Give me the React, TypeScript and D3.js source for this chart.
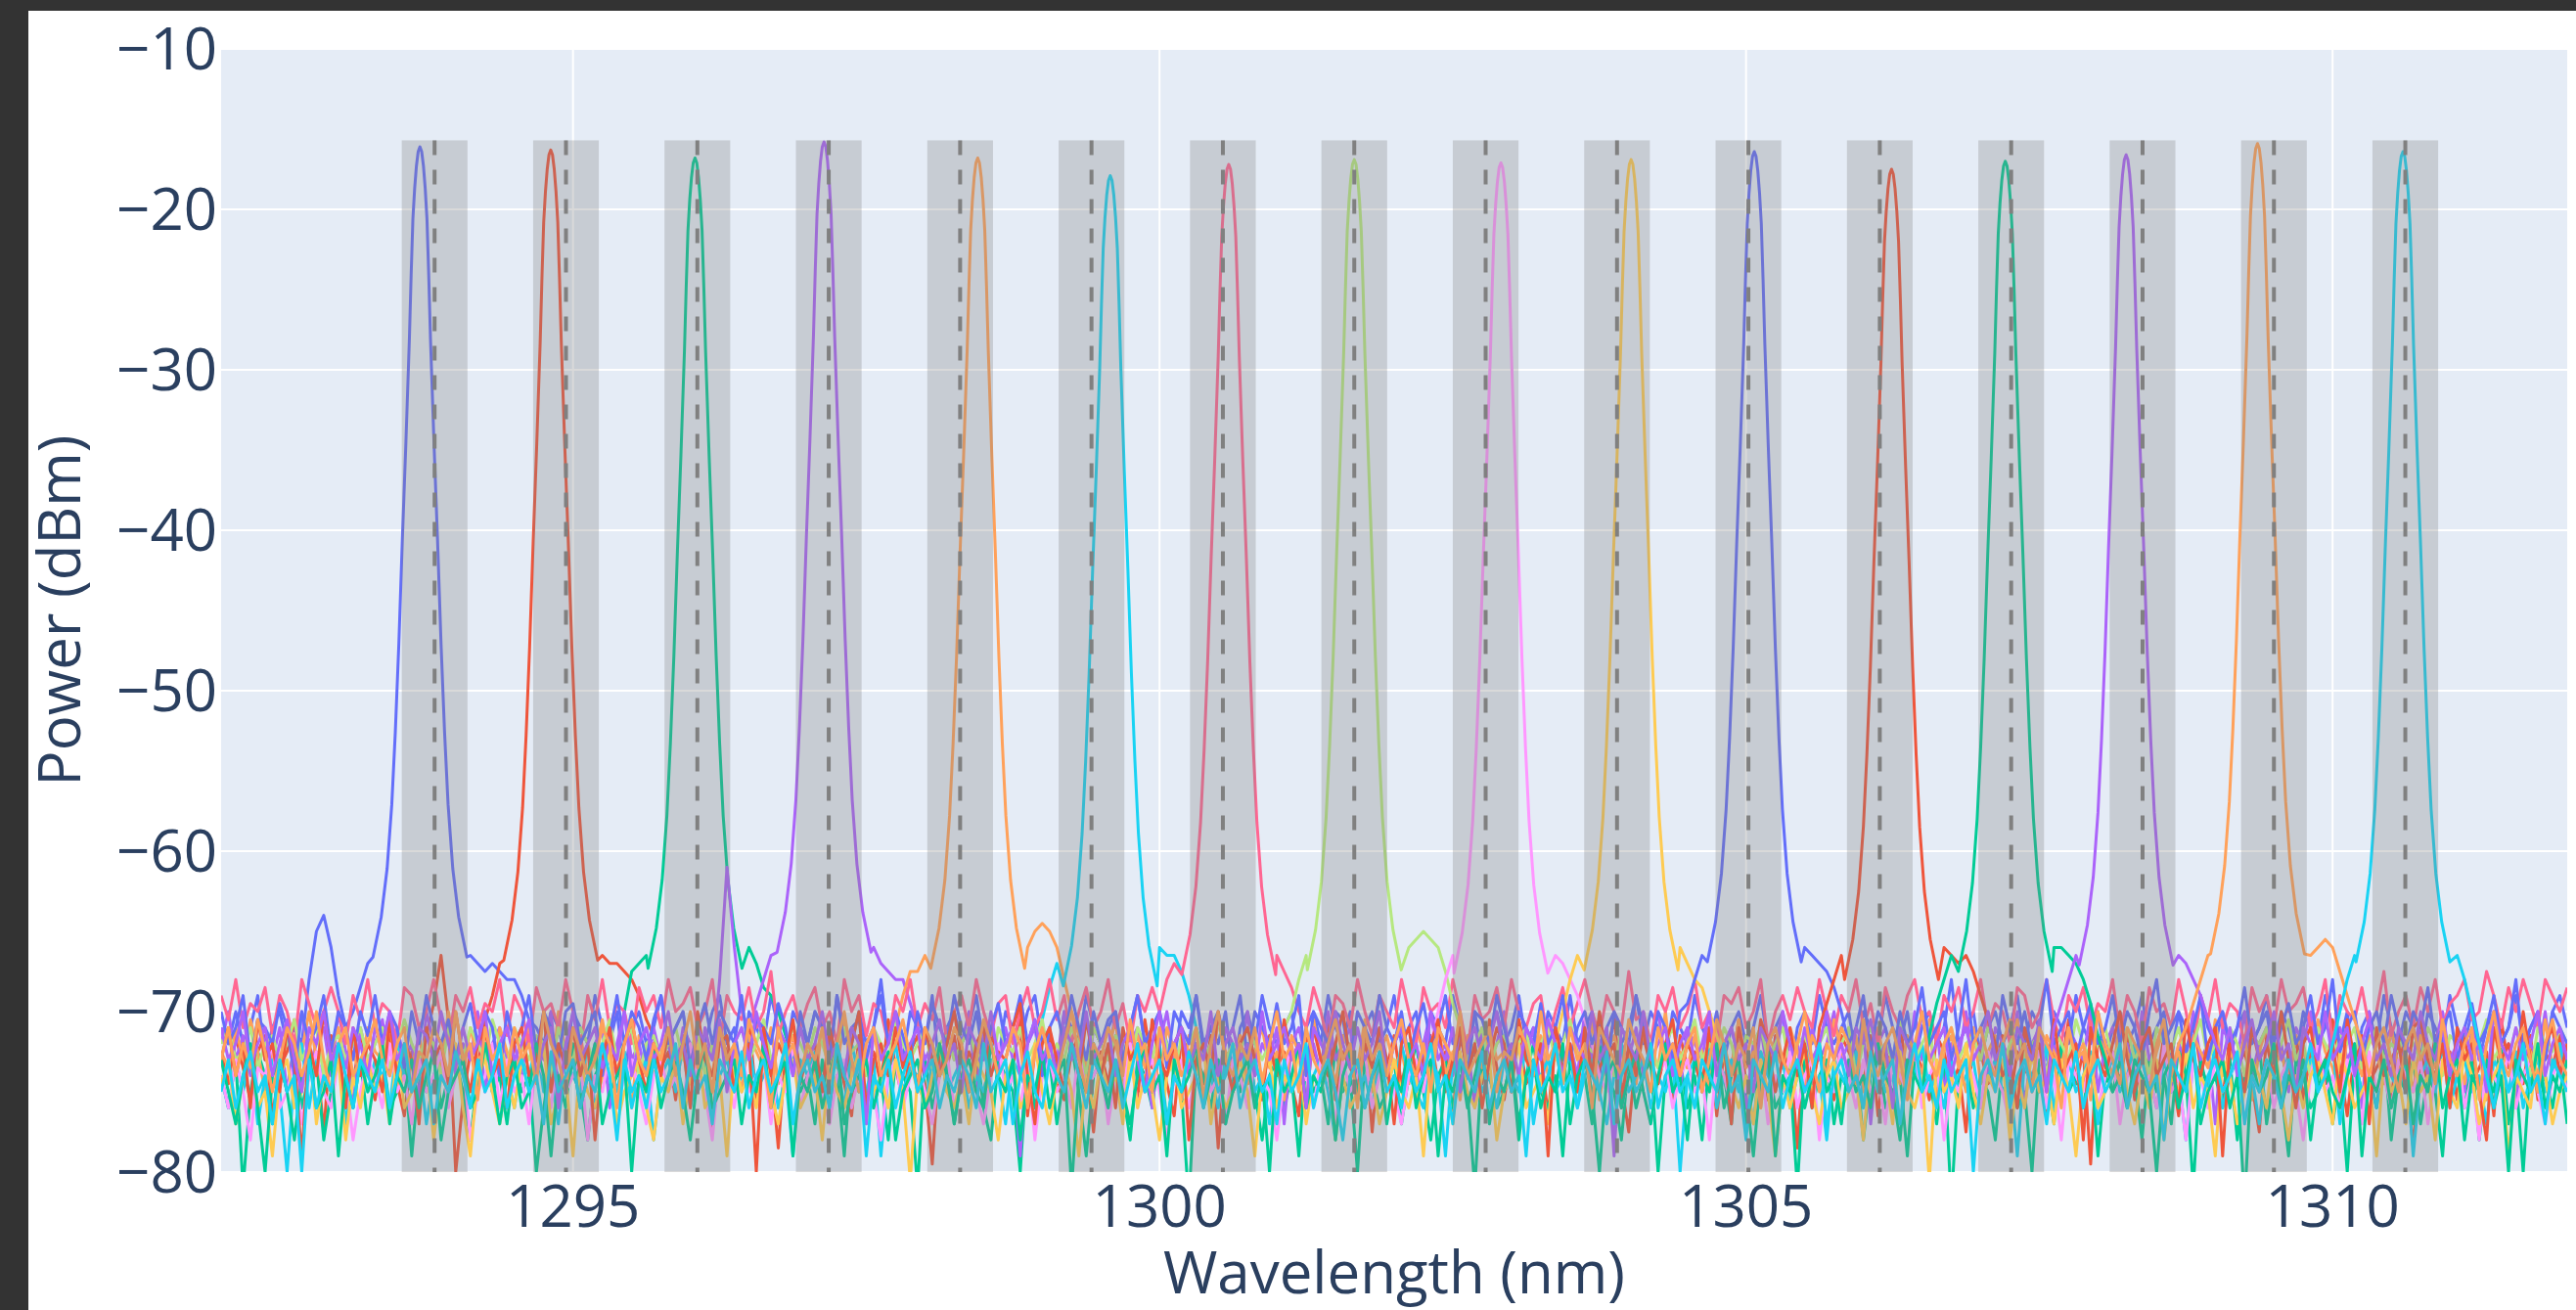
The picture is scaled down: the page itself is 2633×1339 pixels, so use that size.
import React from 'react';
import * as d3 from 'd3';

const FIG_W = 2633;
const FIG_H = 1339;

const X_DOMAIN = [1292, 1312];
const Y_DOMAIN = [-80, -10];
const X_TICKS = [1295, 1300, 1305, 1310];
const Y_TICKS = [-10, -20, -30, -40, -50, -60, -70, -80];
const X_TITLE = 'Wavelength (nm)';
const Y_TITLE = 'Power (dBm)';

const CHANNEL_CENTERS = [1293.82, 1294.94, 1296.06, 1297.18, 1298.30, 1299.42, 1300.54, 1301.66,
  1302.78, 1303.90, 1305.02, 1306.14, 1307.26, 1308.38, 1309.50, 1310.62];
const BAND_HALF_WIDTH = 0.28;
const BAND_TOP = -15.7;

const COLORS = ['#636efa', '#EF553B', '#00cc96', '#ab63fa', '#FFA15A', '#19d3f3', '#FF6692', '#B6E880',
  '#FF97FF', '#FECB52', '#636efa', '#EF553B', '#00cc96', '#ab63fa', '#FFA15A', '#19d3f3'];

const PEAK_SHIFT = [-0.125, -0.13, -0.02, -0.04, 0.15, 0.16, 0.05, 0, 0.13, 0.12, 0.05, 0.10, -0.05, -0.14, -0.14, -0.02];
const PEAK_LEVEL = [-16.1, -16.3, -16.8, -15.8, -16.8, -17.9, -17.2, -16.9, -17.1, -16.9, -16.4, -17.5, -17.0, -16.6, -15.9, -16.4];

const PEAK_PROFILE_OFFSET = [-0.40, -0.33, -0.28, -0.24, -0.21, -0.18, -0.15, -0.12, -0.09, -0.075, -0.06, -0.045, -0.03, -0.015, 0,
  0.015, 0.03, 0.045, 0.06, 0.075, 0.09, 0.12, 0.15, 0.18, 0.21, 0.24, 0.28, 0.33, 0.40];
const PEAK_PROFILE_DROP = [50.5, 48, 45, 41, 36.5, 31, 24.5, 18.5, 12, 8, 4.5, 2.6, 1.2, 0.3, 0,
  0.3, 1.2, 2.6, 4.5, 8, 12, 18.5, 24.5, 31, 36.5, 41, 45, 48, 50.5];

const NOISE_START = 1292;
const NOISE_STEP = 0.0625;
const NOISE_BASE = [-71, -72.5, -74, -72, -72.5, -74, -70, -72, -74, -74.5, -71, -72.5, -74, -72, -72.5, -74];

const NOISE_1 = [
  0, -1, 1, -1, 0, 2, -2, 0, 1, -1, 0, -1, 3, 6, 7, 5, 2, 0, 1, 2.5,
  4, 0, 0, 0, 0, 0, 0, 0, 0, 0, 0, 0, 0, 0, 4.5, 4, 3.5, 4, 3.5, 3,
  3, 2, 0.5, 0, -1, 1, 0, -2, 1, 0, -1, 2, 0, -1, 1, -3, 0, 1, -1, 0,
  2, -1, 0, 1, -2, 0, -1, 1, 2, -1, 0, -3, 1, 0, -1, 2, 0, -2, 1, 0,
  -1, 1, 0, -2, 2, 0, -1, 1, -1, 0, 3, -1, 0, -2, 1, 0, -1, 2, -3, 0,
  1, -1, 0, 2, -1, 0, -2, 1, 0, -1, 1, 2, -1, 0, -3, 1, 0, -1, 2, 0,
  -1, 0, 1, -2, 0, 2, -1, 0, 1, -1, -2, 1, 0, 2, -1, 0, -1, 1, -3, 0,
  1, -1, 2, 0, -1, 0, 1, -2, 0, 1, -1, 2, 0, -1, 1, -4, 0, 1, -1, 0,
  2, -1, 0, 1, -2, 1, 0, -1, 2, 0, -1, 1, -2, 0, 1, -1, 0, 2, -1, 0,
  -2, 1, 0, -1, 2, -1, 0, 1, -3, 0, 1, -1, 0, 2, -1, 1, 0, -2, 1, 0,
  -1, 2, 0, -1, 1, -2, 0, 1, -1, 0, 2, -1, 0, 1, -3, 0, 1, -1, 2, 0,
  -1, 0, 1, -2, 1, 0, -1, 2, 0, -1, 1, -2, 0, 1, -1, 0, 3, -1, 0, 1,
  -2, 0, 1, -1, 0, 2, -1, 1, 0, -3, 1, 0, -1, 2, 0, -1, 1, -2, 0, 1,
  -1, 0, 2, -1, 0, 1, -2, 1, 0, -1, 2, 0, -1, 1, -2, 0, 1, -1, 0, 2,
  -1, 1, 0, -2, 1, 0, -1, 2, 0, -1, 1, -3, 0, 1, -1, 2, 0, -1, 1, 0,
  -2, 1, 0, -1, 2, 0, -1, 1, -2, 0, 1, -1, 0, 2, -1, 0, 1, -2, 1, 2,
  0];
const NOISE_2 = [
  0, -2, 1, -1, -3, 0, 1, -4, -1, 0, 2, -2, -1, 0, -5, 1, -1, 0, -2, 1,
  -1, -3, 0, 1, -2, -4, 0, -1, 1, 3, 6, 2, -7.5, -3, 0, -1, 2, 3.5, 5.5, 0,
  0, 0, 0, 0, 0, 0, 0, 0, 0, 0, 0, 0, 6, 5.5, 5.5, 5, 4.5, 3.5, 2, 1,
  -1, 0, -3, 1, -2, 0, -1, -5, 1, 0, -2, -1, 2, -3, 0, -1, -6, 0, 1, -2,
  0, -1, -3, 1, 0, -2, -4, 1, -1, 0, -2, 2, -1, -3, 0, 1, -2, -7, 0, -1,
  1, -2, 0, -1, -3, 1, 0, -2, -1, 2, -4, 0, -1, 1, -2, -3, 0, 1, -1, -5,
  0, -2, 1, -1, 0, -3, 2, -1, 0, -2, -4, 1, 0, -1, -2, 1, -6, 0, -1, 1,
  -2, 0, -3, 1, -1, 0, -2, -4, 1, 0, -1, 2, -3, 0, -1, -2, 1, -5, 0, -1,
  1, -2, 0, -3, -1, 1, -2, 0, -4, 1, -1, 0, -2, 2, -1, -3, 0, 1, -2, -1,
  0, -4, 1, -1, 0, -2, 1, -3, -1, 0, 2, -2, -5, 0, 1, -1, -2, 0, -3, 1,
  -1, 0, -2, 1, -4, 0, -1, 2, -2, -1, 0, -3, 1, -1, 0, -6, 1, -2, 0, -1,
  -3, 1, 0, -1, -2, 1, -4, 0, -1, 2, -2, 0, -1, -3, 1, 0, -2, -1, -5, 1,
  0, -2, -1, 1, -3, 0, -1, -2, 1, -4, 0, -1, 2, -2, 0, -7, 1, -1, 0, -2,
  1, -3, 0, -1, -2, 1, -1, -4, 0, 2, -1, -2, 0, -3, 1, -1, 0, -2, -5, 1,
  -1, 0, -2, 1, -3, 0, -1, -2, 2, -1, -4, 0, 1, -2, -1, 0, -3, 1, -1, -6,
  0, -2, 1, -1, 0, -3, 1, -2, -1, 0, -4, 2, -1, 0, -2, 1, -3, 0, -1, 1,
  -1];
const NOISE_3 = [
  0, -2, 1, -7, -1, 1.5, 0, -3, 1, -1, 2, -2, 0, 1, -4, -1, 2, -2, 0, 1,
  -3, 0, 1.5, -2, -1, 1, -5, 0, -1, 2, -2, 0, 1, -1, -4, 0, 2, -1, 0, -3,
  1, -1, 0, -6, -2, 1, 0, -2, 2, -1, -4, 0, 1, -1, 1.5, 4, 6.5, 7, 7.5, 0,
  0, 0, 0, 0, 0, 0, 0, 0, 0, 0, 0, 0, 8, 7, 5.5, 5, 4, 2.5, 1, -1,
  0, -3, 1, -2, 0, -5, 1, -1, 2, -2, 0, -4, 1, 0, -1, -7, 1, -2, 0, 1,
  -3, 0, -1, 2, -2, -4, 1, 0, -1, -6, 1, -2, 0, 1, -3, 0, 2, -1, -5, 0,
  1, -2, 0, -1, -4, 1, 0, -2, 2, -3, 0, -1, -8, 1, 0, -2, 1, -3, 0, -1,
  2, -1, -4, 0, 1, -2, 0, -5, 1, -1, 0, -3, 2, -1, 0, -6, 1, 0, -2, -1,
  1, -3, 0, 2, -1, -4, 0, 1, -2, 0, -1, -7, 1, 0, -2, -1, 1, -3, 0, 2,
  -1, -2, 0, -5, 1, -1, 0, -3, 2, 0, -1, -4, 1, -2, 0, 1, -6, 0, -1, 1,
  -2, 0, -4, 1, -1, 0, -3, 2, -1, -5, 0, 1, -2, -1, 0, -7, 1, -2, 0, 1,
  -3, 0, -1, 1, -4, 0, 2, -2, -1, 0, -5, 1, -1, 0, -3, 1, -8, 0, 1, -2,
  0, -1, -4, 1, 0, -2, -1, -6, 1, 0, -3, 2, -1, 0, -2, 1, -5, 0, -1, 1,
  -2, 0, -4, 1, -1, 0, -3, 2, 0, -7, 1, -1, 0, -2, 1, -4, 0, -1, 2, -3,
  0, -1, -5, 1, 0, -2, -1, 1, -3, 0, -6, 1, -1, 0, -2, 2, -4, 0, -1, 1,
  -3, 0, -1, -5, 1, 0, -2, 1, -4, 0, -1, 2, -3, 0, -6, 1, -1, 0, -2, 1,
  -3];
const NOISE_4 = [
  0, 2, -1, 0.5, -2, 1.5, 0, -1, 1, -3, 0, 2, -1.5, 0, 1, -2, 2, -0.5, -4, 1,
  -1, 0, 1.5, -2, 1, -1, 0, -3.5, 2, 0, -1, 1, -2, 0, -1, 2, -3, 0, 1, -1,
  0, -2, 1, 0, -1, 2, -3, 0, 1, -1, -2, 0, 1, -4, 0, 2, -1, 0, -2, 1,
  -1, 0, -2, 1, 0, -3, 1, -1, 4, 11, 6, 2, 1, 2.5, 4, 5.5, 0, 0, 0, 0,
  0, 0, 0, 0, 0, 0, 0, 0, 0, 6, 5, 4.5, 4, 4, 2.5, 1, -1, 0, -2, 1,
  -1, 0, 2, -3, 1, 0, -2, 1, -1, -7, 0, 1, -2, 0, -1, 2, -1, 0, -3, 1,
  0, -1, 2, -2, 0, 1, -1, -4, 0, 2, -1, 0, -2, 1, -1, 0, -3, 1, 0, -1,
  2, -2, 0, -1, 1, -5, 0, 1, -1, 0, -2, 2, -1, 0, 1, -3, 0, -1, 1, -2,
  0, 1, -1, -3, 0, 2, -1, 0, -2, 1, 0, -4, 1, -1, 0, 2, -2, 0, -1, 1,
  -3, 0, 1, -1, 0, -2, 2, -1, 0, 1, -6, 0, -1, 1, -2, 0, 2, -1, 0, -3,
  1, 0, -1, 2, -2, 0, 1, -1, -4, 0, 1, -2, 0, 2, -1, 0, -3, 1, -1, 0,
  2, -1, 0, -2, 1, -5, 0, 1, -1, 0, -2, 2, -1, 0, 1, -3, 0, -1, 2, -1,
  0, -2, 1, 0, -1, 2, -4, 0, 1, -1, 0, -2, 1, 0, -1, 2, -3, 0, 1, -1,
  0, -2, 2, -1, 0, 1, -3, 0, -1, 2, -1, 0, -5, 1, 0, -1, 2, -2, 0, 1,
  -1, 0, -3, 1, 0, 2, -1, -2, 0, 1, -1, 0, -4, 2, -1, 0, 1, -2, 0, -1,
  1, -2, 0, 2, -1, 0, -3, 1, -1, 0, 2, -1, 0, -4, 1, 0, -1, 2, -2, 0,
  -1];
const NOISE_5 = [
  0, -1, 1.5, -0.5, 2, 0, -2.5, 0, -1, 1.5, -1.5, 0, 2.5, -0.5, -2.5, 0, 1.5, -1, 0, -1.5,
  1.5, 0, -0.5, 2, -2.5, 0, -1, 1, -1.5, 0, -1, 2.5, 0, -1.5, 1.5, -0.5, 0, -2.5, 1.5, 0,
  -1.5, 0, 1.5, -0.5, 0, -2.5, 2.5, 0, -1, 1, -1.5, 0, 2, -0.5, -1, 0, -3.5, 1, 0, -1.5,
  0, 1.5, -1, 0, -2, 1, 0, -1.5, 2, -0.5, 0, -2.5, 1, 0, -1, 1.5, -2, 0, 1, -1,
  0, -2, 1.5, 0, -1, 2, -1.5, 0, -3, 1, 0, -1, 1.5, 3.5, 5, 5, 6, 0, 0, 0,
  0, 0, 0, 0, 0, 0, 0, 0, 0, 0, 6.5, 7.5, 8, 7.5, 6.5, 4.5, 2.5, 1, -1, 0.5,
  -1.5, 0, 2, -2.5, 0, 1, -1, 0, -2, 1.5, 0, -3, 1, -0.5, 0, -1.5, 2, 0, -1, 1,
  -2, 0, 1.5, -1, 0, -3, 1, 0, -1.5, 2, -0.5, 0, -2, 1, 0, -1, 2, -2.5, 0, 1,
  -1, 0, -2, 1.5, 0, -1, 2, -1.5, 0, -3, 1, 0, -1, 1.5, -0.5, 0, -2.5, 2, 0, -1,
  1, -1.5, 0, -2, 1.5, 0, -1, 2, -3, 0, 1, -1, 0, -2, 1.5, 0, -1, 2.5, -1.5, 0,
  -1, 1, 0, -2.5, 1.5, 0, -1, 2, -1, 0, -3.5, 1, 0, -1, 1.5, 0, -2, 1, 0, -1.5,
  2, 0, -1, 1, -2.5, 0, 1.5, -1, 0, -2, 1, 0, -1.5, 2, -3, 0, 1, -1, 0, 1.5,
  -2, 0, 1, -1.5, 0, 2, -1, 0, -2.5, 1, 0, -1, 1.5, -0.5, 0, -3, 1, 0, -1.5, 2,
  0, -1, 1, -2, 0, 1.5, -1, 0, -2.5, 1, 0, -1, 2, -1.5, 0, -1, 1, -3, 0, 1.5,
  -1, 0, -2, 1, 0, -1.5, 2, 0, -1, -3, 1, 0, -1.5, 1, 0, -2, 1.5, -1, 0, -2.5,
  1, 0, -1, 2, -1.5, 0, -2, 1, 0, -3, 1.5, -1, 0, -2, 1, 0, -1.5, 2, -1, 0,
  -1];
const NOISE_6 = [
  0, -2, 1, -1, 1.5, -3, 0, 1, -1, -6, 0, 2, -2, 1, 0, -1, 2, -3, 0, 1,
  -1, 1, 0, -2, 2, 0, -1, 1, -3, 0, 1.5, -1, 0, 1, -2, 0, 2, -1, 1, 0,
  -2, 1, 0, 2, -1, 0, -3, 1, 0, -1, 2, -2, 0, 1, -1, 1.5, -2, 0, 1, -4,
  0, 1, -1, 2, -2, 0, 1, -3, 0, 1, -1, 0, 2, -1, 0, 1, -2, 0, -5, 1,
  0, 1.5, -1, 0, 1, -2, 2, 0, -1, 1, -5, 0, 2, -1, 0.5, 0, -2, 1, 2, -1,
  0, 1, -2, 0, -1, 1, 0, -3, 1, 0, -1, 1.5, 3.5, 5.5, 7, 0, 0, 0, 0, 0,
  0, 0, 0, 0, 0, 0, 0, 0, 8, 7.5, 7.5, 6.5, 5, 3, 1.5, 0, -2, 1, -1, 0,
  2, -1, 0, -3, 1, 0, -1, 2, -2, 0, 1, -1, -4, 0, 1.5, -1, 0, -2, 1, 0,
  -1, 2, 0, -1, -2, 1, 0, -5, 1, -1, 0, 2, -1, 0, -2, 1, 0, -1, 2, -3,
  0, 1, -1, 0, 1.5, -2, 0, 1, -1, -3, 0, 2, -1, 0, 1, -2, 0, -1, 1, -6,
  0, 1, -1, 2, -2, 0, 1, -1, 0, -3, 1.5, 0, -1, 1, -2, 0, 2, -1, 0, -4,
  1, 0, -1, 1.5, -2, 0, 1, -1, 0, -3, 1, 0, 2, -1, 0, -2, 1, -1, 0, 1,
  -2, 0, 1, -1, 0, -5, 1, 0, -1, 2, -2, 0, 1, -1, 0, 1.5, -3, 0, 1, -1,
  0, 2, -1, 0, -2, 1, -1, 0, -4, 1, 0, -1, 2, -2, 0, 1, -1, 0, -3, 1,
  0, -1, 1.5, -2, 0, 1, -1, 0, 2, -3, 0, 1, -1, 0, -2, 1, 0, -1, 1, -5,
  0, 1, -1, 2, -2, 0, 1, -1, 0, -3, 1, 0, -1, 1.5, -2, 0, 1, -1, 0, 2,
  -1];
const NOISE_7 = [
  1, -0.5, 2, -1, 0.5, 0, 1.5, -1.5, 1, 0, -2, 2, 0.5, -1, 0, 1.5, 0, -2, 1, -0.5,
  2, -1, 0.5, 0, -2, 1.5, 1, -1, 0, 2, -0.5, -2, 1, 0, 1.5, -1, 0.5, 0, 2, -1.5,
  1, 0, -2, 1.5, 0, 0.5, -1, 2, 0, -2.5, 1, -0.5, 2, -1, 0.5, 0, -2, 1.5, 0, 1,
  -1, 2, 0, 0.5, 1.5, -1, 0, 2, -2, 1, 0, -0.5, 1.5, -1, 0, 2.5, -1.5, 0, 1, -1,
  0.5, 1.5, -1, 0, -2, 2, 0, 1, -1.5, 0.5, 0, -2, 1, 0, 2, -1, 0.5, -0.5, 1.5, -2,
  0, 1, -1, 2, 0, -1.5, 0.5, 1, -2, 0, 1.5, -1, 0, 2, -0.5, 1, -2, 0, 1.5, -1,
  0, 2, -1, 0.5, -2, 1, 0, 1.5, 0, 2, 3, 0, 0, 0, 0, 0, 0, 0, 0, 0,
  0, 0, 0, 0, 3.5, 2.5, 1.5, 0, -1, 1.5, 0, -2, 1, 0.5, -1, 2, 0, -1.5, 1, 0,
  -1, 2, 0, -2, 1.5, 0, 0.5, -1, 2, 0, -2.5, 1, -0.5, 0, 1.5, -1, 2, 0, -1, 0.5,
  1, -2, 0, 1.5, -1, 0.5, 2, 0, -1.5, 1, 0, -1, 2.5, -0.5, 0, -2, 1, 0, 1.5, -1,
  0, 2, -1, 0, -2, 1, 0.5, 1.5, -1, 0, 2, -2, 0, 1, -0.5, 1.5, 0, -1, 2, 0,
  -1.5, 1, 0, 2, -1, 0.5, -2, 1.5, 0, -1, 1, 2, -0.5, 0, -2, 1, 0, 1.5, -1, 0,
  2, -1, 0.5, 0, -2, 1.5, 1, -1, 0, 2, -0.5, -2, 1, 0, 1.5, -1, 0.5, 0, 2, -1.5,
  1, 0, -2, 1.5, 0, 0.5, -1, 2, 0, -2.5, 1, -0.5, 2, -1, 0.5, 0, -2, 1.5, 0, 1,
  -1, 2, 0, 0.5, 1.5, -1, 0, 2, -2, 1, 0, -0.5, 1.5, -1, 0, 2.5, -1.5, 0, 1, -1,
  1.5, 0, 2, -1, 0.5, 1, 2, -0.5, 0, 2.5, 1, -1, 1.5, 0, 2, 0.5, -1, 2, 1, 0,
  1.5];
const NOISE_8 = [
  0, 1, -1, -0.5, 1, -1.5, 0, 0.5, -1, 0, 1.5, -1, 0, 1, -2, 0, 0.5, -1, 0, 1,
  -1, 0, 1, -1.5, 0, 1.5, 0, -1, 0.5, 0, -2, 1, -0.5, -1, 1, 0, -1, 1.5, 0, -1.5,
  1, 0, -1, 0.5, 0, -2, 1, -0.5, -1, 1, 0, -1.5, 0, 1.5, -1, 0, 1, -2, 0, 0.5,
  -1, 0, 1, -1, -0.5, 1, -2, 0, 0.5, -1, 0, 1, -1, 0, 1.5, -1, 0, -0.5, 1, 0,
  -1, 1, 0, -1.5, 0, 1, -0.5, 0, -2, 1, 0, -1, 1.5, 0, -1, 0, 1, -1.5, 0, 0.5,
  -1, 0, 1, -1, 0, -2, 1, 0, -0.5, 1, -1, 0, 1.5, -1, 0, -1, 1, 0, -2, 1,
  0, -1, 0.5, 0, -1.5, 1, 0, -1, 1, 0, -2, 0.5, 0, 1, -1, 0, 1.5, -1, 0, -0.5,
  1, 0, -1, 0, -2, 1, 2, 4, 5.5, 0, 0, 0, 0, 0, 0, 0, 0, 0, 0, 0,
  0, 0, 6, 6.5, 7, 6.5, 6, 4.5, 2.5, 1, -1, 0, 1, -1.5, 0, 0.5, -1, 0, 1, -2,
  0, 1, -1, 0, 1.5, -1, 0, -0.5, 1, 0, -2, 1, 0, -1, 1, 0, -1.5, 0, 1, -1,
  0, 1.5, -1, 0, -1, 1, 0, -2, 0.5, 0, 1, -1, 0, 1, -1.5, 0, 0.5, -1, 0, 1,
  -1, 0, 1, -2, 0, 1, -0.5, 0, -1, 1.5, 0, -1, 0, 1, -2, 0, 1, -1, 0, 0.5,
  -1, 1, 0, -1.5, 0, 1, -1, 0, 0.5, -2, 1, 0, -1, 1.5, 0, -1, 0, 1, -1, 0,
  1, -1, 0, -2, 1, 0, -0.5, 1, -1, 0, 1.5, -1, 0, -1, 1, 0, -2, 0.5, 0, 1,
  -1, 0, 1.5, -1, 0, -2, 1, 0, -1, 0.5, 0, 1, -1.5, 0, 1, -1, 0, -0.5, 1, 0,
  -1, 1, 0, -2, 0.5, 0, 1, -1, 0, 1.5, -1, 0, -1, 1, 0, -2, 1, 0, -0.5, 1,
  0];
const NOISE_9 = [
  0, -2, 1, -1, -4, 0.5, 0, 2, -2, -1, 1, -3, 0, 1.5, -1, -2, 1, 0, -4, -1,
  1, 0, -2, 2, -1, 0, -3, 1, -1, 0, 1.5, -2, 0, 1, -4, -1, 0, 2, -2, 1,
  -1, 0, -3, 1, 0, -2, 2, -1, 0, 1, -4, 0, -1, 1.5, -2, 0, 1, -1, -3, 0,
  1, -1, 0, -2, 2, 0, -1, -4, 1, 0, -2, 1.5, -1, 0, 1, -3, 0, -1, 2, -2,
  0, 1, -1, -3, 0, 1, -2, 0, 2, -1, -4, 0, 1, -2, 0, 1, -1, -3, 0, 1.5,
  -2, 0, 1, -1, -3, 0, 2, -1, 0, -2, 1, -4, 0, 1, -1, 0, -2, 1.5, -1, 0,
  1, -3, 0, -1, 2, -2, 0, 1, -1, -4, 0, 1, -2, 0, 1.5, -1, 0, -3, 1, 0,
  -2, 1, 0, -1, -4, 0, 2, -1, 0, -2, 1, 0, -3, 1, -1, 0, 1.5, -2, 0, 1,
  -1, -3, 0, 1, -1, 2, 4, 6, 7.5, 0, 0, 0, 0, 0, 0, 0, 0, 0, 0, 0,
  0, 0, 7.5, 7, 6, 5, 3.5, 2, 0, -1, 1, -2, 0, 1.5, -1, -3, 0, 1, -2, 0,
  1, -1, 0, -4, 1, 0, -2, 2, -1, 0, 1, -3, 0, -1, 1.5, -2, 0, 1, -4, 0,
  -1, 2, 0, -2, 1, -1, 0, -3, 1, 0, -1, 2, -2, 0, 1, -4, 0, -1, 1, 0,
  -2, 1.5, 0, -1, -3, 0, 1, -1, 2, -2, 0, -4, 1, 0, -1, 1, -2, 0, 1.5, -3,
  0, 1, -1, 0, -2, 2, -1, 0, -4, 1, 0, -2, 1, -1, 0, 1.5, -3, 0, -1, 1,
  -2, 0, 1, -1, -4, 0, 2, -1, 0, -2, 1, 0, -3, 1.5, -1, 0, -2, 1, 0, -1,
  1, -3, 0, 1, -1, 2, -2, 0, -4, 1, 0, -1, 1.5, -2, 0, 1, -1, -3, 0, 1,
  -1];
const NOISE_10 = [
  0, 1.5, -2.5, 0.5, 2, -1.5, -0.5, -4.5, 0.5, 1.5, -1.5, -0.5, 2.5, -2.5, 0.5, -0.5, 1.5, -3.5, 0.5, -1.5,
  1.5, -0.5, 0.5, -2.5, 2, -1.5, -0.5, 0.5, 1.5, -3.5, 0.5, -0.5, 2.5, -1.5, -4.5, 0.5, 1.5, -0.5, -2.5, 0.5,
  -1.5, 1.5, -0.5, 0.5, 2.5, -2.5, -0.5, 0.5, -4.5, 1.5, -0.5, -1.5, 0.5, 2, -2.5, -0.5, 0.5, 1.5, -1.5, -3.5,
  0.5, -0.5, 1.5, -2.5, 0.5, 2.5, -1.5, -0.5, 0.5, -4.5, 1.5, -0.5, 0.5, -1.5, 2, -0.5, -2.5, 0.5, 1.5, -1.5,
  -0.5, 0.5, -3.5, 1.5, -0.5, -1.5, 0.5, 2, -2.5, -0.5, 0.5, -1.5, 1.5, -0.5, -6, 0.5, -1.5, 0.5, 2.5, -0.5,
  -1.5, 0.5, -2.5, 1.5, 0.5, -0.5, -3.5, 0.5, 1.5, -1.5, -0.5, 2.5, -0.5, -2.5, 0.5, 1.5, -0.5, -4.5, 0.5, -1.5,
  1.5, -0.5, 0.5, -2.5, 2, -1.5, 0.5, -0.5, -3.5, 0.5, 1.5, -1.5, -0.5, 0.5, 2.5, -2.5, 0.5, -1.5, -0.5, 1.5,
  -0.5, -4.5, 0.5, 1.5, -1.5, 0.5, -0.5, 2, -2.5, 0.5, -0.5, 1.5, -3.5, 0.5, -1.5, -0.5, 2.5, 0.5, -2.5, -0.5,
  1.5, -0.5, -1.5, 0.5, -4.5, 1.5, -0.5, 0.5, -2.5, 2, -0.5, -1.5, 0.5, 1.5, -3.5, -0.5, 0.5, 2.5, -1.5, -0.5,
  0.5, -2.5, 2.5, 4.5, 6.5, 8, 0, 0, 0, 0, 0, 0, 0, 0, 0, 0, 0, 0, 0, 8.5,
  7.5, 6.5, 6, 4.5, 3, 1.5, 0, -1.5, 0.5, -2.5, 1.5, -0.5, -4.5, 0.5, -1.5, 0.5, 2, -0.5, -2.5, 0.5,
  1.5, -1.5, -0.5, 0.5, -3.5, 1.5, -0.5, 0.5, -2.5, 2, -0.5, -1.5, 0.5, -6, 1.5, -0.5, 0.5, -1.5, 2.5, -0.5,
  -2.5, 0.5, -0.5, 1.5, -3.5, 0.5, -1.5, 2, -0.5, 0.5, -2.5, 1.5, -0.5, -4.5, 0.5, 1.5, -1.5, -0.5, 0.5, 2.5,
  -0.5, -2.5, 0.5, -1.5, 1.5, -3.5, 0.5, -0.5, 2, -1.5, 0.5, -0.5, -4.5, 1.5, 0.5, -2.5, -0.5, 1.5, 0.5, -1.5,
  2.5, -0.5, -3.5, 0.5, -1.5, 0.5, 1.5, -0.5, -2.5, 2, 0.5, -1.5, -0.5, 0.5, -4.5, 1.5, -0.5, 0.5, -2.5, 1.5,
  -0.5, 0.5, -3.5, 1.5, -0.5, -1.5, 2, 0.5, -2.5, -0.5, 0.5, 1.5, -4.5, 0.5, -0.5, -1.5, 2.5, 0.5, -2.5, -0.5,
  0.5];
const NOISE_11 = [
  1, -1, 0, 2, -2, 0.5, 0, -1, 1.5, 0, -3, 1, -1, 0, 2, -1.5, 1, 0, -2, 1,
  -0.5, 2, -1, 1, 0, -2.5, 1, -1, 2, 0, -1, 0.5, -2, 0, 1.5, -1, 1, 0, -3, 1,
  -1, 0, 2, -1.5, 1, 0, -2, 1, 1.5, -1, 0, 1, -3, -0.5, 2, -1, 1, 0, -2, 0.5,
  2, -1, 0, 1, -2.5, 0, 1.5, -1, 1, 0, -1, 2, -2, 0.5, 0, -1, 1.5, 0, -3, 1,
  -1, 1, 0, -2, 2, -1, 0, 0.5, -2, 0, 2, -1, 1, -0.5, -2, 1, -1, 1.5, 0, -1,
  2, 0, -1, 1, -2, 0, 1.5, -1, 0, 2, -1, 0.5, -3, 0, 1, -1, 2, 0, -2, 1,
  -1, 0.5, 1, -2, 0, 2, -1, 0, 1, -2.5, 1, 0, -1, 2, -1.5, 0, 1, -1, 0, 2,
  -2, 1, 0, -1, 1.5, -1, 0, 2, -3, 1, 0, -1, 1, 0.5, -2, 1, 0, -1, 2, 0,
  -1, 1, -2, 0, 1.5, -1, 0, 2, -1, 0, -3, 1, 0.5, -1, 2, 0, -2, 1, 0, -1,
  1.5, -1, 0, 2, -2, 0, 1, -1, 0.5, -3, 1, 0, -1, 2, 0, -1.5, 1, 0, -2, 1,
  1.5, 3, 4.5, 0, 0, 0, 0, 0, 0, 0, 0, 0, 0, 0, 0, 0, 5, 4.5, 4, 3.5,
  2.5, 1, -1, 0, 2, -1.5, 1, 0, -2, 1, -1, 0, 2.5, -1, 0, 1, -2, 0, 3, -1,
  0, 1, -2, 2, 0, -1, 1, -1.5, 0, 3, -1, 0, 1, -2, 0, 1.5, -1, 0, 2, -1,
  1, 0, -2, 1, 3, -1, 0, 1, -1.5, 0, 2, -2, 0, 1, -1, 0, 2.5, -1, 0, 1,
  -2, 0, 1.5, -1, 0, 2, -1, 0, 3, -1.5, 0, 1, -2, 0, 1, -1, 2, 0, -1.5, 1,
  0, 2.5, -1, 0, 1, -2, 0, 1.5, -1, 0, 2, -1, 0, 3, -1.5, 0, 1, -2, 1, 0,
  -1];
const NOISE_12 = [
  -0.5, 1.5, -1.5, 0.5, -3.5, 2, -0.5, 0.5, -2.5, 1.5, -0.5, -6.5, 0.5, -1.5, 2.5, -0.5, 0.5, -3.5, 1.5, -1.5,
  0.5, -0.5, -2.5, 2, -1.5, 0.5, -0.5, -4.5, 1.5, -0.5, 0.5, -2, 2.5, -0.5, -2.5, 0.5, 1.5, -1.5, -0.5, -3.5,
  0.5, 1.5, -1.5, -0.5, 2.5, -2.5, 0.5, -1, 1.5, -1.5, 0.5, -5.5, -0.5, 1.5, -1.5, 0.5, 2, -0.5, -2.5, 0.5,
  -1.5, 1.5, -0.5, 0.5, -3.5, 2.5, -0.5, -1.5, 0.5, 1, -2.5, -0.5, 0.5, -7.5, 1.5, -1.5, 0.5, -0.5, 2, -1.5,
  -0.5, 0.5, -2.5, 1.5, -0.5, -1.5, 0.5, 2.5, -3.5, -0.5, 0.5, -1.5, 1.5, -1, 0.5, -2.5, 1.5, -0.5, -1.5, 0.5,
  2.5, -0.5, -2.5, 0.5, 1.5, -1.5, 0, -0.5, 1.5, 3, -1.5, -4.5, 0.5, 1.5, -0.5, -2.5, 0.5, -1.5, 2, -0.5,
  -1.5, 0.5, -3.5, 1.5, -0.5, 0.5, -2.5, 2, -0.5, -1.5, 0.5, 1.5, -5.5, -0.5, 0.5, -1.5, 2.5, -0.5, -2.5, 0.5,
  1.5, -0.5, -2.5, 0.5, -1.5, 2, -0.5, 0.5, -3.5, 1.5, -0.5, -1.5, 0.5, 2.5, -0.5, -2.5, 0.5, -1, 1.5, -0.5,
  -4.5, 0.5, 1.5, -1.5, -0.5, 0.5, 2, -2.5, -0.5, 1.5, -1.5, 0.5, -3.5, -0.5, 1.5, 0.5, -2.5, 2, -0.5, -1.5,
  0.5, -6.5, 1.5, -0.5, 0.5, -2.5, 1.5, -1.5, 2.5, -0.5, 0.5, -3.5, 0.5, -1.5, 1.5, -0.5, -2, 0.5, 2, -1.5,
  0.5, -0.5, -2.5, 1.5, -0.5, 0.5, -4.5, 1.5, -0.5, -1.5, 2, 0.5, -2.5, -0.5, 1.5, -1.5, 0.5, -3.5, 1.5, 3,
  4.5, 6, 0, 0, 0, 0, 0, 0, 0, 0, 0, 0, 0, 0, 0, 6.5, 6, 5.5, 6, 5,
  3.5, 2, 0.5, -1.5, -0.5, -3.5, 1.5, -0.5, 0.5, -2.5, 2, -1.5, -0.5, 0.5, -5.5, 1.5, -0.5, -1.5, 0.5, 2.5,
  -0.5, -2.5, 0.5, 1.5, -1.5, -0.5, 0.5, -3.5, 2, -0.5, -1.5, 0.5, 1.5, -6.5, 0.5, -0.5, -2.5, 1.5, -0.5, 0.5,
  -1.5, 2.5, -0.5, -3.5, 0.5, 1.5, -1.5, -0.5, 0.5, -2.5, 2, -0.5, 0.5, -4.5, 1.5, -1.5, -0.5, 0.5, -2.5, 1.5,
  2, -0.5, -1.5, 0.5, -3.5, 1.5, -0.5, 0.5, -2.5, -5.5, 1.5, -0.5, 0.5, -1.5, 2.5, -0.5, -2.5, 0.5, 1.5, -1.5,
  0.5];
const NOISE_13 = [
  1, -1, -3, 0, 2, -2, -6, 0, 1, -1, -4, 0, 1.5, -2, -1, 1, -5, 0, -2, 1,
  -1, 0, 2, -3, 0, -1, 1, -2, 0, 1.5, -4, -1, 0, 1, -2, -1, 2, 0, -3, 0,
  1, -2, -1, 2, 0, -5, 0, -1, 1, -2, 0, 2, -3, -1, 0, 1, -6, 0, -1, 1.5,
  -2, 0, 1, -1, -4, 0, 2, -2, -1, 0, 1, -3, 0, -1, 2, -2, 0, 1, -5, 0,
  -1, 1, -2, 0, 2, -3, -1, 0, 1, -2, 0, 1.5, -4, -1, 0, 1, -2, -1, 2, 0,
  -3, 0, 1, -1, -2, 2, 0, -1, 1, -4, 0, -1, 1.5, -2, 0, 1, -7, 0, -1, 2,
  0, -2, 1, -1, -3, 0, 2, -1, 0, -5, 1, -1, 0, 2, -2, 0, 1, -3, -1, 0,
  1, -2, 0, -6, 1, -1, 0, 2, -2, 0, -1, 1, -4, 0, 1.5, -1, -2, 0, 1, -3,
  0, -1, 2, -2, 0, 1, -5, 0, -1, 1, -2, 0, 2, -3, 0, -1, 1, -4, 0, 1,
  -2, 0, -1, 2, -3, 0, 1, -1, -6, 0, 1, -2, 0, 1.5, -1, -3, 0, 2, -1, 0,
  -4, 1, 0, -1, 2, -2, 0, 1, -3, -1, 0, 1.5, -5, 0, -1, 1, -2, 0, 2, -1,
  0, -3, 1, -1, 0, -2, 2, 0, -1, -4, 1, 0, -1, 2.5, 4.5, 6, 7.5, 0, 0, 0,
  0, 0, 0, 0, 0, 0, 0, 0, 0, 0, 8, 8, 7.5, 7, 6, 4.5, 2.5, 1, -1, 0,
  -2, 1, 0, -1, -6, 0, 1, -2, 0, 2, -3, -1, 0, 1, -2, 0, -8, 1, -1, 0,
  2, -2, 0, -1, 1, -4, 0, 1, -1, -2, 0, 2, -5, 0, -1, 1, -2, 0, 1, -3,
  0, -1, 2, -2, 0, 1, -4, 0, -1, 1, -2, 0, -6, 1, 0, -1, 2, -2, 0, -1,
  1];
const NOISE_14 = [
  1, -1, 0, 2, -1.5, 0, 1, -2, 0, 1.5, -1, -3, 1, 0, 2, -1, 0, -1.5, 1, 0,
  -2, 1, 0, 2, -1, 0, -3, 1, 0.5, -1, 2, 0, -1.5, 1, -1, 0, 2, -2, 0, 1,
  -1, 0, 1.5, -2, 0, 1, -4, 0, 2, -1, 0, 1, -1.5, 0, -1, 2, -2, 0, 1, -1,
  0, 2, -1, 0, -2, 1, 0, -1, 1.5, -3, 0, 1, -1, 2, 0, -1.5, 1, 0, -2, 1,
  -1, 0, 2, -1, 0, -2, 1, 0, -5, 1, -1, 0, 2, -1, 0, 1, -2, 0, 1.5, -1,
  0, -3, 1, 0, -1, 2, -1, 0, 1, -2, 0, 1.5, -1, 0, -2, 1, 0, -1, 2, -1,
  0, 1, -2, 0, 1, -1, -3, 0, 2, -1, 0, 1, -1.5, 0, -1, 2, -2, 0, 1, -1,
  0, -2, 2, -1, 0, 1, -1, 0, -4, 1, 0, -1, 2, 0, -1.5, 1, -1, 0, 2, -2,
  0, 1, -1, 0, -2, 2, 0, -1, 1, -3, 0, 1, -1, 0, 2, -1, 0, -2, 1, 0,
  -1, 1.5, 0, -2, 1, 0, -1, 2, -1, 0, -7, 1, 0, -1, 2, -1, 0, 1, -2, 0,
  1, -1, 0, 2, -2, 0, 1, -1, 0, -3, 1, 0, -1, 2, 0, -1.5, 1, -1, 0, 2,
  -1, 0, -2, 1, 0, 1.5, -1, 0, -4, 1, 0, -1, 2, -1, 0, 1, -2, 0, 1, -1,
  0, 2, -1, 0, -2, 1, 0, -1, 1.5, -3, 1, 2.5, 4, 5.5, 0, 0, 0, 0, 0, 0,
  0, 0, 0, 0, 0, 0, 0, 5.5, 5, 4, 3, 1.5, 0, -1, 1, -2, 0, 1.5, -1, 0,
  2, -1, 0, -3, 1, 0, -1, 2, -1, 0, 1, -2, 0, 1.5, -1, 0, -2, 1, 0, -1,
  2, 0, -1, 1, -2, 0, 1, -1, 0, -3, 2, 0, -1, 1, -1, 0, 2, -2, 0, 1,
  -1];
const NOISE_15 = [
  -0.5, 1.5, -1.5, 0.5, -1, 2, 0, -2.5, -0.5, 1.5, 0.5, -1.5, 0, 2.5, -0.5, -2.5, 0.5, 1.5, -1.5, -0.5,
  0.5, 2, -0.5, -1.5, 0.5, 1.5, -2.5, 0, -0.5, 1.5, 0.5, -1.5, 2.5, -0.5, 0.5, -3, 1.5, -0.5, 0.5, -1.5,
  1.5, -0.5, 0.5, -2, 2.5, 0.5, -0.5, -2.5, 1.5, 0, -1.5, -0.5, 1.5, 0.5, -3.5, 0.5, 2, -0.5, -1.5, 0.5,
  -0.5, 1.5, -1.5, 0.5, 2.5, -1, 0.5, -2.5, 1.5, -0.5, 0.5, -1.5, 2, 0.5, -0.5, -3.5, 1.5, -0.5, 0.5, -1.5,
  0.5, -0.5, 1.5, -2, 0.5, 2.5, -0.5, -2.5, 0.5, 1.5, -1.5, -0.5, 0.5, 2, -0.5, -2.5, 1.5, 0.5, -1.5, -0.5,
  1.5, 0.5, -2.5, -0.5, 2, 0.5, -1.5, -0.5, 1.5, 0.5, -3.5, 0, 1.5, -0.5, -1.5, 0.5, 2.5, -0.5, -2.5, 0.5,
  -0.5, 1.5, 0.5, -1.5, 2, -0.5, 0.5, -2.5, 1.5, -0.5, 0.5, -1.5, -0.5, 1.5, -3, 0.5, 2.5, -0.5, -1.5, 0.5,
  -0.5, 1.5, -2, 0.5, 2.5, -0.5, 0.5, -2.5, 1.5, -0.5, -1.5, 0.5, 2, -0.5, 0.5, -3.5, 1.5, -0.5, 0.5, -1.5,
  0.5, 2, -0.5, -1.5, 0.5, -2.5, 1.5, 0.5, -0.5, 2.5, -1.5, -0.5, 0.5, 1.5, -2.5, 0, -0.5, 1.5, 0.5, -1.5,
  2.5, -0.5, 0.5, -2, 1.5, -0.5, 0.5, -3.5, 1.5, 0.5, -0.5, -1.5, 2, 0.5, -0.5, -2.5, 1.5, -0.5, 0.5, -1.5,
  0.5, 1.5, -2.5, -0.5, 2, 0.5, -1.5, 0.5, -0.5, 1.5, -3.5, 0.5, 1.5, -0.5, -1.5, 0.5, 2.5, -0.5, -2.5, 0.5,
  -0.5, 1.5, 0.5, -2, 2, -0.5, -1.5, 0.5, 1.5, -0.5, -3, 0.5, 2.5, -0.5, -1.5, 0.5, 1.5, -0.5, -2.5, 0.5,
  1.5, -0.5, -1.5, 0.5, 2, -0.5, 0.5, -2.5, 1.5, 0.5, -0.5, -3.5, 1.5, -0.5, 0.5, -1.5, 2.5, 0.5, -0.5, -2,
  1.5, 0.5, -0.5, -2.5, 0.5, 2, -1.5, 0.5, 1.5, 3, 4.5, 6, 0, 0, 0, 0, 0, 0, 0, 0,
  0, 0, 0, 0, 0, 6, 6.5, 7, 6.5, 5, 3.5, 2, 0.5, -1.5, 0.5, 1.5, -0.5, -2.5, 0.5, 1.5,
  -0.5, 0.5, -2, 2, -0.5, -1.5, 0.5, 1.5, -3, 0.5, 2.5, -0.5, -1.5, 0.5, 1.5, -0.5, -2.5, 0.5, 2, -0.5,
  -1.5];
const NOISE_16 = [
  -1, 1, -2, 0, 1.5, -1, 0, -3, 1, -1, 0, -6, 1, -2, 0, -1, 2, 0, -2, 1,
  0, -1, 1, -2, 0, 2, -1, 0, 1, -3, 0, -1, 1.5, 0, -2, 1, -1, 0, 2, -2,
  0, 1, -1, 0, -3, 1.5, -1, 0, 1, -2, 0, -1, 2, 0, -4, 1, -1, 0, -2, 1,
  -1, 0, 2, -2, 1, -1, 0, -3, 1, 0, -1, 1.5, -2, 0, 1, -1, 0, 2, -3, 0,
  1, -1, 0, -2, 2, 0, -1, 1, -5, 0, -1, 1, -2, 0, 1.5, -1, 0, 1, -2, 0,
  -1, 1, 0, -2, 2, -1, 0, 1, -3, 0, 1.5, -1, -2, 1, 0, -1, 2, 0, -2, 1,
  0, -1, 1, -2, 0, 2, -1, 0, 1, -3, 0, -1, 1.5, 0, -2, 1, -1, 0, 2, -2,
  0, 1, -1, 0, -3, 1, -1, 0, 2, -2, 0, 1, -1, -4, 0, 1, -2, 0, 1.5, -1,
  0, -2, 1, -1, 0, 2, -1, 0, -3, 1, 0, -1, 1.5, -2, 0, 1, -1, 0, -5, 1,
  -1, 0, 2, -1, 0, -2, 1, 0, -1, 1.5, -3, 0, 1, -1, 0, 2, -2, 0, 1, -1,
  0, -2, 1, 0, -1, 2, -1, 0, -4, 1, 0, -1, 1.5, -2, 0, 1, -1, 0, 2, -3,
  0, 1, -1, 0, -2, 1.5, -1, 0, 1, -3, 0, 2, -1, 0, -2, 1, -1, 0, 1, -6,
  0, 1, -1, 2, -2, 0, 1, -1, 0, -3, 1, 0, -1, 1.5, -2, 0, 1, -1, 0, 2,
  -2, 0, 1, -1, 0, -4, 1, 0, -1, 2, -2, 0, 1, -1, 0, 1.5, -3, 0, -1, 1,
  0, -2, 1, -1, 0, 2, -1, 0, 2, 4, 6, 7.5, 0, 0, 0, 0, 0, 0, 0, 0,
  0, 0, 0, 0, 0, 7.5, 6, 4, 2, 0, -2, 1, -1, 0, 2, -1, 0, -3, 1, 0,
  -1];

const NOISE = [NOISE_1, NOISE_2, NOISE_3, NOISE_4, NOISE_5, NOISE_6, NOISE_7, NOISE_8,
  NOISE_9, NOISE_10, NOISE_11, NOISE_12, NOISE_13, NOISE_14, NOISE_15, NOISE_16];

const PLOT = { left: 226, right: 2624, top: 50, bottom: 1198 };
const FONT = "'Open Sans', verdana, arial, sans-serif";
const TEXT_COLOR = '#2a3f5f';

export default function App() {
  const x = d3.scaleLinear().domain(X_DOMAIN).range([PLOT.left, PLOT.right]);
  const y = d3.scaleLinear().domain(Y_DOMAIN).range([PLOT.bottom, PLOT.top]);
  const line = d3.line<[number, number]>().x(d => x(d[0])).y(d => y(d[1]));

  const traces = NOISE.map((noise, t) => {
    const peak = CHANNEL_CENTERS[t] + PEAK_SHIFT[t];
    const pts: [number, number][] = [];
    noise.forEach((v, i) => {
      const w = NOISE_START + i * NOISE_STEP;
      if (Math.abs(w - peak) > 0.405) pts.push([w, NOISE_BASE[t] + v]);
    });
    PEAK_PROFILE_OFFSET.forEach((o, j) => pts.push([peak + o, PEAK_LEVEL[t] - PEAK_PROFILE_DROP[j]]));
    pts.sort((a, b) => a[0] - b[0]);
    return pts;
  });

  const fmt = (v: number) => (v < 0 ? '\u2212' + Math.abs(v) : String(v));

  return (
    <svg width={FIG_W} height={FIG_H} style={{ position: 'absolute', left: 0, top: 0, display: 'block' }}>
      <rect x={0} y={0} width={FIG_W} height={FIG_H} fill="#333333" />
      <rect x={29} y={11} width={FIG_W - 29} height={FIG_H - 11} fill="#ffffff" />
      <rect x={PLOT.left} y={PLOT.top} width={PLOT.right - PLOT.left} height={PLOT.bottom - PLOT.top} fill="#E5ECF6" />
      <defs>
        <clipPath id="plotclip">
          <rect x={PLOT.left} y={PLOT.top} width={PLOT.right - PLOT.left} height={PLOT.bottom - PLOT.top} />
        </clipPath>
      </defs>
      <g>
        {X_TICKS.map(t => (
          <line key={'gx' + t} x1={x(t)} x2={x(t)} y1={PLOT.top} y2={PLOT.bottom} stroke="#ffffff" strokeWidth={2} />
        ))}
        {Y_TICKS.map(t => (
          <line key={'gy' + t} x1={PLOT.left} x2={PLOT.right} y1={y(t)} y2={y(t)} stroke="#ffffff" strokeWidth={2} />
        ))}
      </g>
      <g clipPath="url(#plotclip)">
        {traces.map((pts, t) => (
          <path key={'tr' + t} d={line(pts) || ''} fill="none" stroke={COLORS[t]} strokeWidth={3} strokeLinejoin="round" />
        ))}
        {CHANNEL_CENTERS.map((c, k) => (
          <rect key={'band' + k} x={x(c - BAND_HALF_WIDTH)} y={y(BAND_TOP)}
            width={x(c + BAND_HALF_WIDTH) - x(c - BAND_HALF_WIDTH)} height={y(Y_DOMAIN[0]) - y(BAND_TOP)}
            fill="#808080" fillOpacity={0.3} />
        ))}
        {CHANNEL_CENTERS.map((c, k) => (
          <line key={'dash' + k} x1={x(c)} x2={x(c)} y1={y(BAND_TOP)} y2={y(Y_DOMAIN[0])}
            stroke="#808080" strokeWidth={4} strokeDasharray="15,15" />
        ))}
      </g>
      <g fontFamily={FONT} fontSize={60} fill={TEXT_COLOR}>
        {Y_TICKS.map(t => (
          <text key={'yl' + t} x={PLOT.left - 4} y={y(t) + 21} textAnchor="end">{fmt(t)}</text>
        ))}
        {X_TICKS.map(t => (
          <text key={'xl' + t} x={x(t)} y={1254} textAnchor="middle">{fmt(t)}</text>
        ))}
        <text x={(PLOT.left + PLOT.right) / 2} y={1322} textAnchor="middle">{X_TITLE}</text>
        <text transform={`translate(82, ${(PLOT.top + PLOT.bottom) / 2}) rotate(-90)`} textAnchor="middle">{Y_TITLE}</text>
      </g>
    </svg>
  );
}
